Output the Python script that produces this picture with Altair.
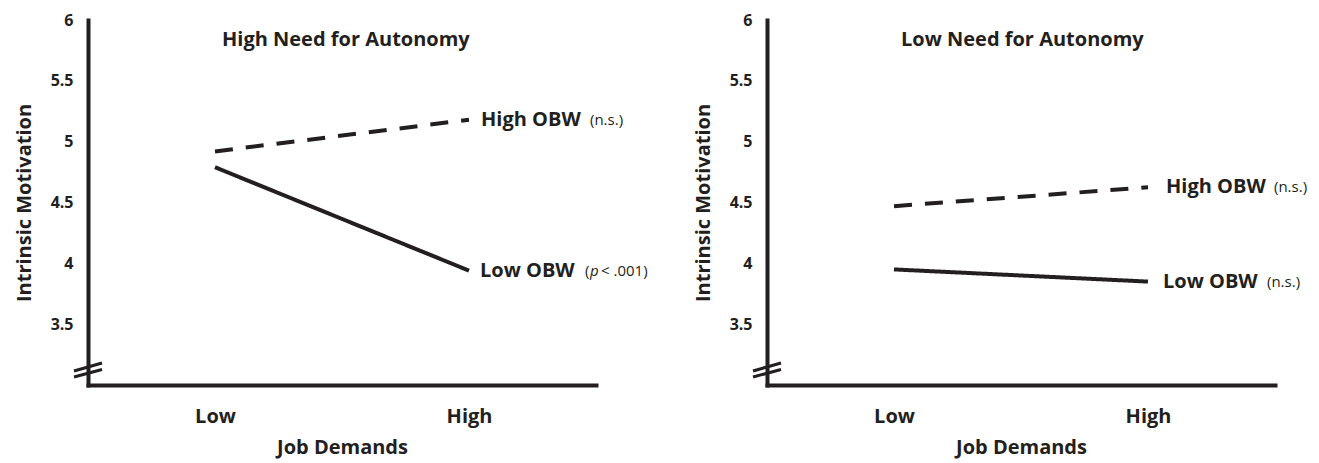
import altair as alt
import pandas as pd

# ---- data ----
x_levels = [1, 2]
x_labels = ["Low", "High"]
y_ticks = [3.5, 4, 4.5, 5, 5.5, 6]

panel_titles = ["High Need for Autonomy", "Low Need for Autonomy"]
series_names = ["High OBW", "Low OBW"]

high_nfa_high_obw = [4.92, 5.18]
high_nfa_low_obw = [4.79, 3.94]
low_nfa_high_obw = [4.47, 4.625]
low_nfa_low_obw = [3.95, 3.85]

INK = "#231f20"
FONT = "Open Sans"
W, H = 508, 365


def panel(title, high_vals, low_vals, notes, lab_dx):
    rows = []
    for name, vals in zip(series_names, [high_vals, low_vals]):
        for xv, v in zip(x_levels, vals):
            rows.append({"series": name, "x": xv, "y": v})
    df = pd.DataFrame(rows)

    xs = alt.Scale(domain=[0.5, 2.5], nice=False, zero=False)
    ys = alt.Scale(domain=[3, 6], nice=False, zero=False)

    xenc = alt.X("x:Q", scale=xs, axis=alt.Axis(
        values=x_levels,
        labelExpr="datum.value == 1 ? '%s' : '%s'" % (x_labels[0], x_labels[1]),
        title="Job Demands", ticks=False, grid=False,
        labelFontSize=20, labelFontWeight="bold", labelPadding=21,
        titleFontSize=20, titleFontWeight="bold", titlePadding=11,
        domainWidth=4, domainColor=INK, domainCap="square",
        labelColor=INK, titleColor=INK, labelFont=FONT, titleFont=FONT))
    yenc = alt.Y("y:Q", scale=ys, axis=alt.Axis(
        values=y_ticks, format="~g",
        title="Intrinsic Motivation", ticks=False, grid=False,
        labelFontSize=16, labelFontWeight="bold", labelPadding=15,
        titleFontSize=20, titleFontWeight="bold", titlePadding=16,
        domainWidth=4, domainColor=INK, domainCap="square",
        labelColor=INK, titleColor=INK, labelFont=FONT, titleFont=FONT))

    base = alt.Chart(df)
    lines = base.mark_line(color=INK, strokeWidth=4, strokeCap="butt").encode(
        x=xenc, y=yenc,
        strokeDash=alt.StrokeDash("series:N", scale=alt.Scale(
            domain=series_names, range=[[18, 13], [1, 0]]), legend=None),
        detail="series:N")

    ends = df[df["x"] == 2]
    layers = [lines]
    for i, name in enumerate(series_names):
        one = ends[ends["series"] == name]
        layers.append(alt.Chart(one).mark_text(
            align="left", baseline="middle", dx=lab_dx[i], font=FONT,
            fontSize=20, fontWeight="bold", color=INK).encode(
            x="x:Q", y="y:Q", text="series:N"))
        for part, ddx, style in notes[i]:
            layers.append(alt.Chart(one).mark_text(
                align="left", baseline="middle", dx=ddx, font=FONT,
                fontSize=15, fontStyle=style, color=INK).encode(
                x="x:Q", y="y:Q", text=alt.value(part)))

    ttl = alt.Chart(alt.Data(values=[{}])).mark_text(
        align="left", baseline="middle", font=FONT, fontSize=20,
        fontWeight="bold", color=INK).encode(
        x=alt.value(134), y=alt.value(20), text=alt.value(title))
    br1 = alt.Chart(alt.Data(values=[{}])).mark_rule(
        color=INK, strokeWidth=3).encode(
        x=alt.value(-14), x2=alt.value(14),
        y=alt.value(H - 14), y2=alt.value(H - 22))
    br2 = alt.Chart(alt.Data(values=[{}])).mark_rule(
        color=INK, strokeWidth=3).encode(
        x=alt.value(-14), x2=alt.value(14),
        y=alt.value(H - 8), y2=alt.value(H - 15.5))
    layers += [ttl, br1, br2]
    return alt.layer(*layers).properties(width=W, height=H)


left = panel(panel_titles[0], high_nfa_high_obw, high_nfa_low_obw,
             [[("(n.s.)", 121, "normal")],
              [("(", 116, "normal"), ("p", 121, "italic"), ("< .001)", 132, "normal")]],
             [12, 11])
right = panel(panel_titles[1], low_nfa_high_obw, low_nfa_low_obw,
              [[("(n.s.)", 126, "normal")],
               [("(n.s.)", 119, "normal")]],
              [18, 15])

chart = alt.hconcat(left, right, spacing=45).properties(
    padding={"left": 6, "top": 4, "right": 0, "bottom": 5}
).configure_view(stroke=None)

chart.save("out.html", embed_options={"renderer": "svg", "actions": False})
